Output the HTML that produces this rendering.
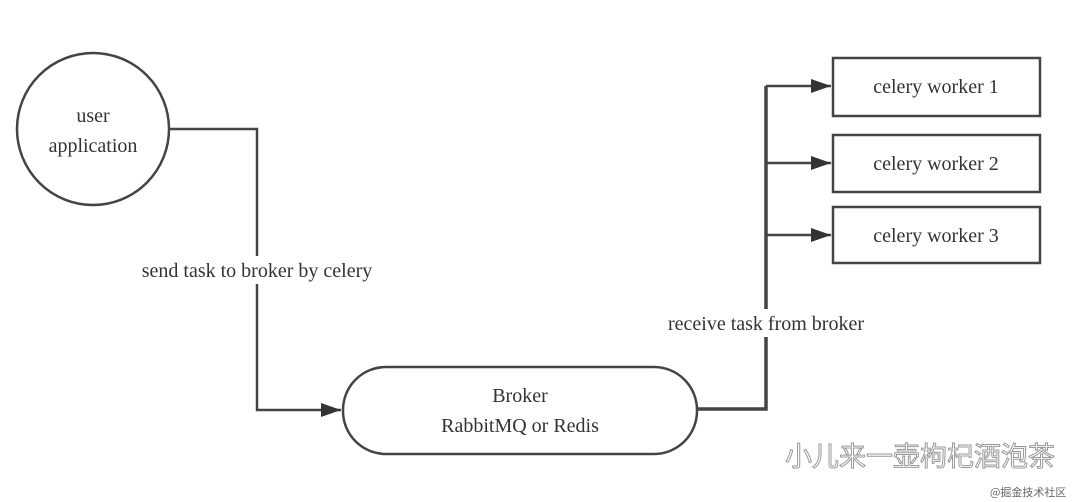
<!DOCTYPE html>
<html><head><meta charset="utf-8"><style>
body{margin:0;background:#fff;}
svg{display:block}
text{font-family:"Liberation Serif",serif;fill:#333;}
</style></head><body>
<svg width="1080" height="502" viewBox="0 0 1080 502">
<defs><marker id="b" markerWidth="20" markerHeight="14" refX="20" refY="7" orient="auto" markerUnits="userSpaceOnUse"><path d="M0,0 L20,7 L0,14z" fill="#333"/></marker></defs>
<g stroke="#444" stroke-width="2.5" fill="none">
<circle cx="93" cy="129" r="76"/>
<polyline points="170,129 257,129 257,410 341,410" marker-end="url(#b)"/>
<rect x="343" y="367" width="354" height="87" rx="43"/>
<polyline points="697,409 766,409 766,86" stroke-width="3.5"/>
<line x1="766" y1="86" x2="831" y2="86" marker-end="url(#b)"/>
<line x1="766" y1="163" x2="831" y2="163" marker-end="url(#b)"/>
<line x1="766" y1="235" x2="831" y2="235" marker-end="url(#b)"/>
<rect x="833" y="58" width="207" height="58"/>
<rect x="833" y="135" width="207" height="57"/>
<rect x="833" y="207" width="207" height="56"/>
</g>
<rect x="118" y="256" width="278" height="28" fill="#fff"/>
<rect x="645" y="309" width="242" height="28" fill="#fff"/>
<g font-size="20" text-anchor="middle">
<text x="93" y="122">user</text>
<text x="93" y="152">application</text>
<text x="257" y="277">send task to broker by celery</text>
<text x="766" y="330">receive task from broker</text>
<text x="520" y="402">Broker</text>
<text x="520" y="432">RabbitMQ or Redis</text>
<text x="936" y="93">celery worker 1</text>
<text x="936" y="170">celery worker 2</text>
<text x="936" y="242">celery worker 3</text>
</g>
<text x="785" y="466" font-size="27" style="font-family:'Liberation Sans','Noto Sans CJK SC',sans-serif;fill:#fff;stroke:#999;stroke-width:1">小儿来一壶枸杞酒泡茶</text>
<text x="990" y="496" font-size="11" style="font-family:'Noto Sans CJK SC',sans-serif;fill:#666">@掘金技术社区</text>
</svg>
</body></html>
